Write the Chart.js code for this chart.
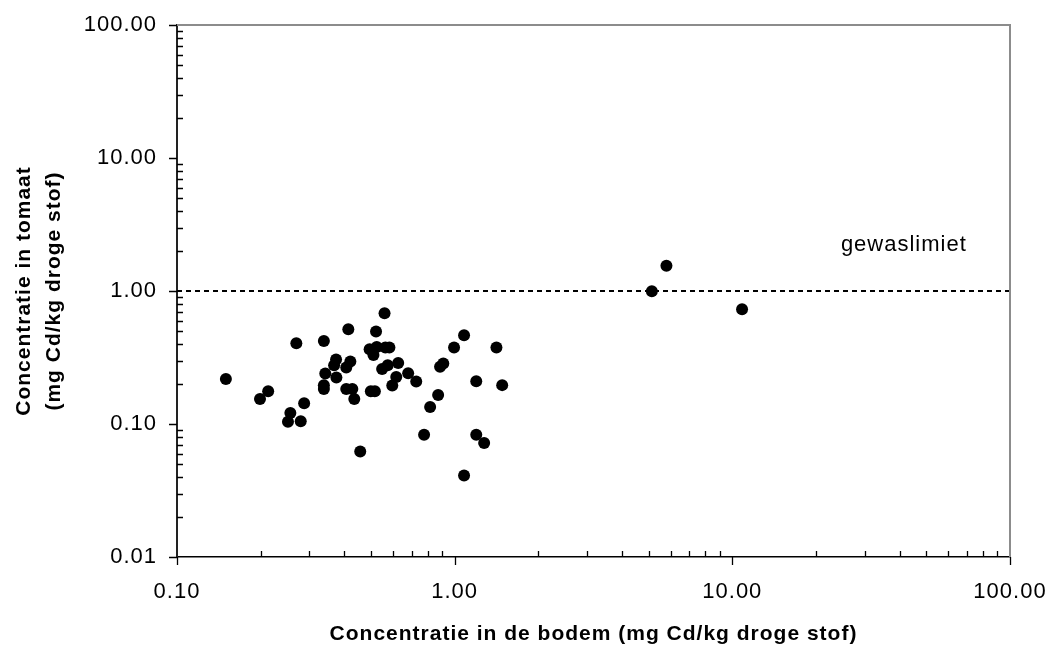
<!DOCTYPE html>
<html>
<head>
<meta charset="utf-8">
<script src="https://cdn.jsdelivr.net/npm/chart.js@4/dist/chart.umd.min.js"></script>
<style>
  body { margin: 0; background: #fff; }
  canvas { display: block; }
</style>
</head>
<body>
<canvas id="myChart" width="1049" height="650"></canvas>
<script>
// soil concentration (x) and tomato concentration (y), mg Cd/kg dry matter
let bodem = [
  0.150, 0.199, 0.213, 0.269, 0.256, 0.251, 0.279, 0.287, 0.338, 0.342,
  0.338, 0.338, 0.374, 0.368, 0.375, 0.407, 0.421, 0.414, 0.407, 0.428,
  0.435, 0.457, 0.499, 0.516, 0.494, 0.510, 0.521, 0.524, 0.559, 0.563,
  0.582, 0.548, 0.574, 0.626, 0.616, 0.596, 0.680, 0.727, 0.776, 0.816,
  0.872, 0.886, 0.910, 0.995, 1.081, 1.081, 1.196, 1.196, 1.277, 1.414,
  1.483, 5.13, 5.79, 10.84
];
let tomaat = [
  0.218, 0.154, 0.176, 0.405, 0.121, 0.104, 0.105, 0.143, 0.420, 0.240,
  0.196, 0.183, 0.306, 0.277, 0.224, 0.266, 0.295, 0.516, 0.183, 0.183,
  0.154, 0.062, 0.176, 0.176, 0.365, 0.330, 0.496, 0.380, 0.681, 0.376,
  0.376, 0.259, 0.277, 0.287, 0.226, 0.195, 0.241, 0.209, 0.083, 0.134,
  0.165, 0.269, 0.285, 0.376, 0.465, 0.041, 0.210, 0.083, 0.072, 0.376,
  0.196, 0.995, 1.55, 0.729
];

let gewaslimiet = 1.00;
let xTicks = [0.1, 1, 10, 100];
let yTicks = [0.01, 0.1, 1, 10, 100];

let fontFamily = "'Liberation Sans', Arial, sans-serif";

let points = bodem.map((b, i) => ({ x: b, y: tomaat[i] }));
let limitLine = [
  { x: xTicks[0], y: gewaslimiet },
  { x: xTicks[xTicks.length - 1], y: gewaslimiet }
];

// the reference font runs a bit wider than Arial
const spacing = {
  id: 'spacing',
  beforeLayout(chart) { chart.ctx.letterSpacing = '1px'; },
  beforeDraw(chart) { chart.ctx.letterSpacing = '1px'; }
};

// frame, tick marks (major outward, minor inward) and the label
const frame = {
  id: 'frame',
  afterDraw(chart) {
    let ctx = chart.ctx;
    let a = chart.chartArea;
    let x = chart.scales.x;
    let y = chart.scales.y;

    ctx.save();
    ctx.strokeStyle = '#8c8c8c';
    ctx.lineWidth = 2;
    ctx.beginPath();
    ctx.moveTo(a.left, a.top);
    ctx.lineTo(a.right, a.top);
    ctx.lineTo(a.right, a.bottom);
    ctx.stroke();

    ctx.strokeStyle = '#000';
    ctx.lineWidth = 1.3;
    ctx.beginPath();
    for (let e = -1; e < 2; e++) {
      for (let m = 1; m <= 10; m++) {
        let px = Math.round(x.getPixelForValue(m * Math.pow(10, e))) + 0.5;
        ctx.moveTo(px, a.bottom);
        ctx.lineTo(px, (m === 1 || m === 10) ? a.bottom + 8 : a.bottom - 6);
      }
    }
    for (let e = -2; e < 2; e++) {
      for (let m = 1; m <= 10; m++) {
        let py = Math.round(y.getPixelForValue(m * Math.pow(10, e))) + 0.5;
        ctx.moveTo(a.left, py);
        ctx.lineTo((m === 1 || m === 10) ? a.left - 8 : a.left + 6, py);
      }
    }
    ctx.stroke();

    ctx.letterSpacing = '1px';
    ctx.fillStyle = '#000';
    ctx.font = '22px ' + fontFamily;
    ctx.textAlign = 'left';
    ctx.textBaseline = 'alphabetic';
    ctx.fillText('gewaslimiet', x.getPixelForValue(24.6), y.getPixelForValue(gewaslimiet) - 40);
    ctx.restore();
  }
};

let ctx = document.getElementById("myChart").getContext("2d");

let myChart = new Chart(ctx, {
  type: 'scatter',
  data: {
    datasets: [
      {
        label: 'tomaat',
        data: points,
        backgroundColor: '#000',
        borderColor: '#000',
        borderWidth: 0,
        pointRadius: 6,
        pointHoverRadius: 6
      },
      {
        type: 'line',
        label: 'gewaslimiet',
        data: limitLine,
        borderColor: '#000',
        borderWidth: 2,
        borderDash: [5, 4],
        pointRadius: 0,
        fill: false
      }
    ]
  },
  options: {
    responsive: false,
    animation: false,
    devicePixelRatio: 1,
    layout: {
      padding: { top: 25, right: 39, left: 0, bottom: 0 }
    },
    plugins: {
      legend: { display: false },
      tooltip: { enabled: false }
    },
    scales: {
      x: {
        type: 'logarithmic',
        min: 0.1,
        max: 100,
        afterBuildTicks: scale => {
          scale.ticks = xTicks.map(v => ({ value: v }));
        },
        afterFit: scale => {
          scale.height = 93;
          scale.paddingLeft = 0;
          scale.paddingRight = 0;
        },
        grid: { display: false, drawTicks: false },
        border: { display: true, color: '#000', width: 1.5 },
        ticks: {
          padding: 22,
          color: '#000',
          font: { family: fontFamily, size: 22 },
          callback: v => Number(v).toFixed(2)
        },
        title: {
          display: true,
          text: 'Concentratie in de bodem (mg Cd/kg droge stof)',
          color: '#000',
          font: { family: fontFamily, size: 21, weight: 'bold' },
          padding: { top: 0, bottom: 3 }
        }
      },
      y: {
        type: 'logarithmic',
        min: 0.01,
        max: 100,
        afterBuildTicks: scale => {
          scale.ticks = yTicks.map(v => ({ value: v }));
        },
        afterFit: scale => {
          scale.width = 177;
          scale.paddingTop = 0;
          scale.paddingBottom = 0;
        },
        grid: { display: false, drawTicks: false },
        border: { display: true, color: '#222', width: 2 },
        ticks: {
          padding: 20,
          color: '#000',
          font: { family: fontFamily, size: 22 },
          callback: v => Number(v).toFixed(2)
        },
        title: {
          display: true,
          text: ['Concentratie in tomaat', '(mg Cd/kg droge stof)'],
          color: '#000',
          font: { family: fontFamily, size: 21, weight: 'bold', lineHeight: 1.4 },
          padding: { top: 10, bottom: 0 }
        }
      }
    }
  },
  plugins: [spacing, frame]
});
</script>
</body>
</html>
